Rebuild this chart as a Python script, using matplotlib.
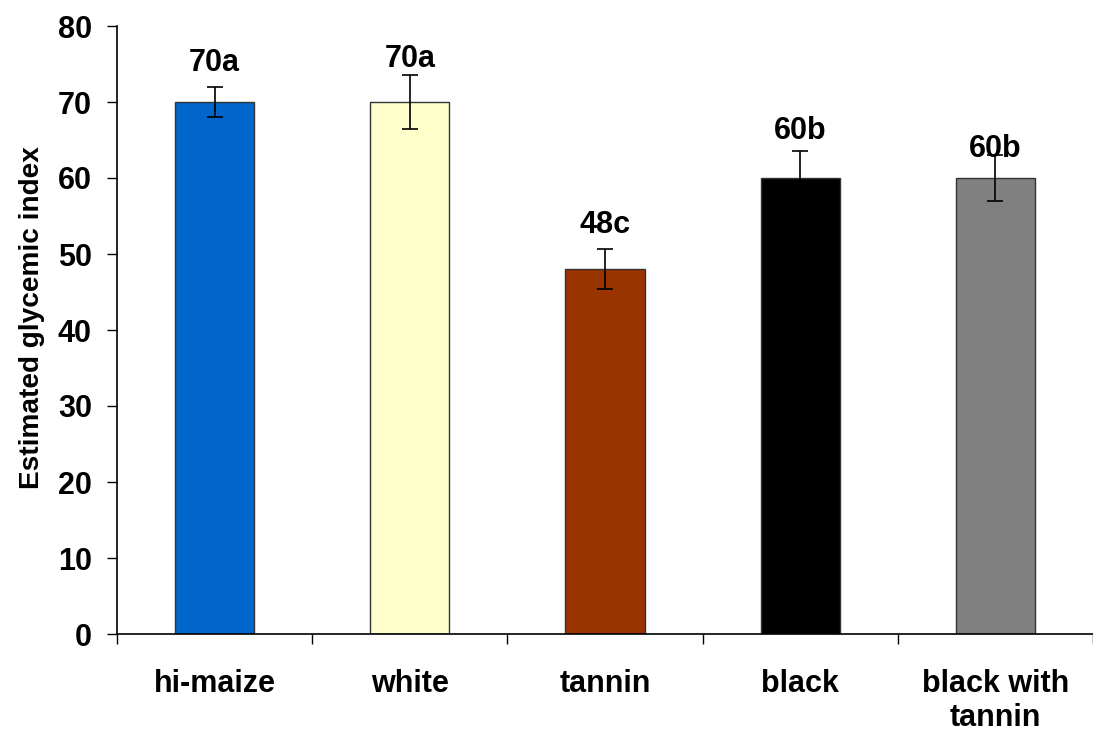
import matplotlib
matplotlib.use("Agg")
import matplotlib.pyplot as plt
import numpy as np

categories = ["hi-maize", "white", "tannin", "black", "black with\ntannin"]
values = [70, 70, 48, 60, 60]
errors = [2.0, 3.6, 2.6, 3.6, 3.0]
letters = ["a", "a", "c", "b", "b"]
label_y = [75.1, 75.7, 53.8, 66.2, 63.8]
colors = ["#0066CC", "#FFFFCC", "#993300", "#000000", "#808080"]
y_ticks = [0, 10, 20, 30, 40, 50, 60, 70, 80]

plt.rcParams["font.family"] = ["Liberation Sans", "DejaVu Sans"]
plt.rcParams["font.weight"] = "bold"

fig = plt.figure(figsize=(10.93, 7.32), dpi=100)
ax = fig.add_axes([117 / 1093, 1 - 634 / 732, 1 - 117 / 1093, (634 - 26) / 732])

x = np.arange(len(categories))
ax.bar(x, values, width=0.406, color=colors, edgecolor="#333333", linewidth=1.0, zorder=2)
ax.errorbar(x, values, yerr=errors, fmt="none", ecolor="black", elinewidth=1.2,
            capsize=6, capthick=1.2, zorder=3)

for xi, v, l, ly in zip(x, values, letters, label_y):
    ax.text(xi, ly, f"{v}{l}", ha="center", va="center", fontsize=22,
            fontweight="bold", zorder=4)

ax.set_ylim(0, 80)
ax.set_xlim(-0.5, 4.5 - 9 / 197)
ax.set_yticks(y_ticks)
ax.set_yticklabels([str(t) for t in y_ticks], fontsize=22, fontweight="bold")
ax.tick_params(axis="y", direction="out", length=7, width=1, pad=11)

ax.set_xticks(x)
ax.set_xticklabels(categories, fontsize=22, fontweight="bold", linespacing=1.2)
ax.tick_params(axis="x", which="major", length=0, pad=25)
ax.set_xticks(np.arange(-0.5, 4.6, 1.0), minor=True)
ax.tick_params(axis="x", which="minor", direction="out", length=7, width=1)

ax.spines["top"].set_visible(False)
ax.spines["right"].set_visible(False)
ax.spines["left"].set_linewidth(1.2)
ax.spines["bottom"].set_linewidth(1.2)

ax.set_ylabel("Estimated glycemic index", fontsize=20.2, fontweight="bold")
ax.yaxis.set_label_coords(-72 / 976, 0.521)

fig.savefig("out.png", dpi=100)
